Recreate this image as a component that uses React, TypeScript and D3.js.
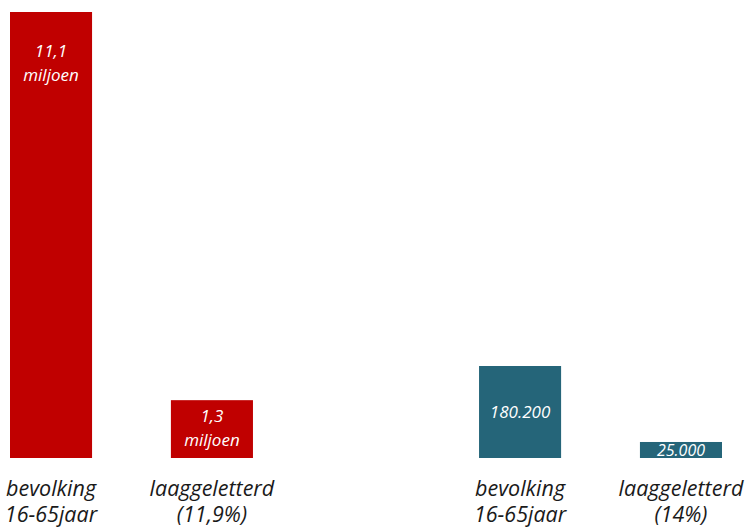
import React, { useEffect } from 'react';
import * as d3 from 'd3';

// Nederland (miljoen) and regio (personen), side by side with their own scales
const groups = ['nl', 'reg'];
const barSlots = ['bev', 'laag'];

const nlValues = [11.1, 1.3];
const nlValueLabels = [['11,1', 'miljoen'], ['1,3', 'miljoen']];

const regValues = [180200, 25000];
const regValueLabels = ['180.200', '25.000'];

const nlCategories = [['bevolking', '16-65jaar'], ['laaggeletterd', '(11,9%)']];
const regCategories = [['bevolking', '16-65jaar'], ['laaggeletterd', '(14%)']];

const RED = '#C00000';
const BLUE = '#256579';
const FONT = '"Open Sans", Lato, sans-serif';

const W = 753;
const H = 528;
const baseY = 458;

const App: React.FC = () => {
  useEffect(() => {
    document.body.style.margin = '0';
  }, []);

  const x0 = d3.scaleBand<string>()
    .domain(groups)
    .range([10, 722])
    .paddingInner(0.482)
    .paddingOuter(0);

  const x1 = d3.scaleBand<string>()
    .domain(barSlots)
    .range([0, x0.bandwidth()])
    .paddingInner(0.49)
    .paddingOuter(0);

  // the two groups are not drawn on the same scale
  const yNl = d3.scaleLinear().domain([-0.16, 11.1]).range([baseY, 12]);
  const yReg = d3.scaleLinear().domain([-7700, 180200]).range([baseY, 366]);

  const bw = x1.bandwidth();
  const barX = (g: string, i: number) => (x0(g) || 0) + (x1(barSlots[i]) || 0);

  const catLabel = (g: string, i: number, lines: string[]) => {
    const cx = barX(g, i) + bw / 2;
    return (
      <text
        key={g + i}
        x={cx}
        y={496}
        textAnchor="middle"
        fill="#1a1a1a"
        fontStyle="italic"
        fontSize={21.5}
      >
        {lines.map((line, j) => (
          <tspan key={j} x={cx} dy={j === 0 ? 0 : 26}>
            {line}
          </tspan>
        ))}
      </text>
    );
  };

  return (
    <svg width={W} height={H} style={{ display: 'block', background: '#fff' }} fontFamily={FONT}>
      {nlValues.map((v, i) => {
        const bx = barX('nl', i);
        const top = yNl(v);
        const first = Math.min(top + 45, (top + baseY) / 2 - 7);
        return (
          <g key={'nl' + i}>
            <rect x={bx} y={top} width={bw} height={baseY - top} fill={RED} />
            {nlValueLabels[i].map((t, j) => (
              <text
                key={j}
                x={bx + bw / 2}
                y={first + j * 23.5}
                textAnchor="middle"
                fill="#fff"
                fontStyle="italic"
                fontSize={17}
              >
                {t}
              </text>
            ))}
          </g>
        );
      })}
      {regValues.map((v, i) => {
        const bx = barX('reg', i);
        const top = yReg(v);
        return (
          <g key={'reg' + i}>
            <rect x={bx} y={top} width={bw} height={baseY - top} fill={BLUE} />
            <text
              x={bx + bw / 2}
              y={(top + baseY) / 2}
              dy="0.36em"
              textAnchor="middle"
              fill="#fff"
              fontStyle="italic"
              fontSize={i === 0 ? 17 : 16}
            >
              {regValueLabels[i]}
            </text>
          </g>
        );
      })}
      {nlCategories.map((lines, i) => catLabel('nl', i, lines))}
      {regCategories.map((lines, i) => catLabel('reg', i, lines))}
    </svg>
  );
};

export default App;
